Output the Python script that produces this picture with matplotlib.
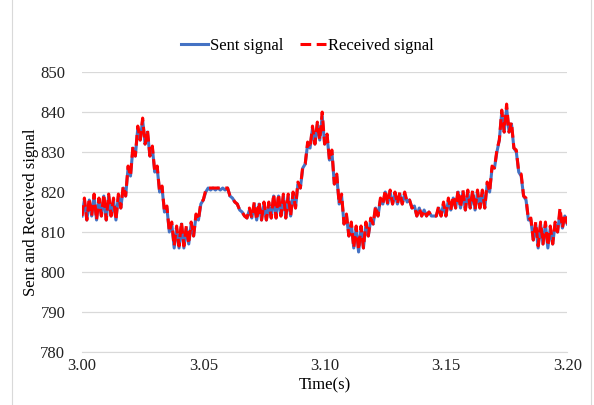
import numpy as np
import matplotlib
matplotlib.use("Agg")
import matplotlib.pyplot as plt
from matplotlib.lines import Line2D

plt.rcParams["font.family"] = ["Liberation Serif", "DejaVu Serif"]

# time axis: 1 ms samples from 3.000 s to 3.200 s
t_start, t_step, n_pts = 3.000, 0.001, 201

sent = [
    814, 818, 813, 818, 814, 819, 813, 818, 814, 819,
    813, 819, 814, 818, 813, 819, 816, 821, 819, 826,
    824, 831, 829, 836, 833, 838, 832, 835, 829, 831,
    825, 826, 820, 821, 815, 816, 810, 812, 806, 811,
    806, 812, 806, 811, 807, 812, 809, 814, 813, 817,
    818, 820, 821, 820.5, 821, 820.5, 821, 820.5, 821, 820.5,
    821, 819, 818.5, 817.5, 817, 815.5, 815, 814, 813.5, 815.5,
    813.5, 817, 813, 817, 813, 817, 813, 817, 813.5, 819,
    813.5, 819, 814, 819, 813.5, 819, 814, 819.5, 816, 822,
    821, 826, 827, 832, 831, 836, 832, 837, 833, 839,
    832, 834, 828, 830, 822, 824, 817, 819, 812, 814,
    809, 812, 806, 811, 805, 811, 806, 812, 809, 813,
    812, 816, 814, 818, 817, 820, 817, 820, 817, 819.5,
    817, 819.5, 817, 819.5, 817.5, 818, 816, 816.5, 814, 816,
    814, 815.5, 814, 815, 814, 814, 814, 816, 814, 817,
    814, 818, 815.5, 818.5, 816, 820, 816, 820, 815.5, 820,
    816, 820, 815.5, 820, 816, 820, 816, 822, 820, 826,
    826, 830, 833, 840, 835, 841, 835, 837, 831, 830,
    825, 824, 819, 818, 813, 813, 808, 812, 806, 812,
    807, 812, 806, 811, 807, 812, 810, 815, 811, 814,
    812,
]

received = [
    814, 818.5, 813, 818.5, 814, 819.5, 813, 818.5, 814, 819.5,
    813, 819.5, 814, 818.5, 813, 819.5, 816, 821.5, 819, 826.5,
    824, 831.5, 829, 836.5, 833, 838.5, 832, 835.5, 829, 831.5,
    825, 826.5, 820, 821.5, 815, 816.5, 810, 812.5, 806.5, 811.5,
    806.5, 812.5, 806.5, 811.5, 807, 812.5, 809, 814.5, 813, 817.5,
    818, 820.5, 821, 821, 821, 821, 821, 821, 821, 821,
    821, 819, 818.5, 817.5, 817, 815.5, 815, 814, 813.5, 816,
    813.5, 817.5, 813, 817.5, 813, 817.5, 813, 817.5, 813.5, 819.5,
    813.5, 819.5, 814, 819.5, 813.5, 819.5, 814, 820, 816, 822.5,
    821, 826.5, 827, 832.5, 831, 836.5, 832, 837.5, 833, 840,
    832, 834.5, 828, 830.5, 822, 824.5, 817, 819.5, 812, 814.5,
    809, 812.5, 806, 811.5, 805.5, 811.5, 806, 812.5, 809, 813.5,
    812, 816.5, 814, 818.5, 817, 820.5, 817, 820.5, 817, 820,
    817, 820, 817, 820, 817.5, 818, 816, 816.5, 814, 816,
    814, 815.5, 814, 815, 814, 814, 814, 816.5, 814, 817.5,
    814, 818.5, 815.5, 819, 816, 820.5, 816, 820.5, 815.5, 820.5,
    816, 820.5, 815.5, 820.5, 816, 820.5, 816, 822.5, 820, 826.5,
    826, 830.5, 833, 840.5, 835, 842, 835, 837.5, 831, 830.5,
    825, 824.5, 819, 818.5, 813, 813.5, 808, 812.5, 806.5, 812.5,
    807, 812.5, 806.5, 811.5, 807, 812.5, 810, 816, 811, 814.5,
    812,
]

time = t_start + t_step * np.arange(n_pts)

fig = plt.figure(figsize=(5.94, 4.05), dpi=100)
ax = fig.add_axes([0.138, 0.131, 0.817, 0.691])

ax.plot(time, sent, color="#4472C4", lw=2.2, label="Sent signal", zorder=3)
ax.plot(time, received, color="#FF0000", lw=2.2, dashes=(3.5, 1.8),
        label="Received signal", zorder=4)

ax.set_xlim(3.0, 3.2)
ax.set_ylim(780, 850)
ax.set_xticks([3.00, 3.05, 3.10, 3.15, 3.20])
ax.set_xticklabels(["3.00", "3.05", "3.10", "3.15", "3.20"])
ax.set_yticks(range(780, 851, 10))
ax.grid(axis="y", color="#D9D9D9", lw=0.9)
ax.set_axisbelow(True)
for s in ("top", "right", "left"):
    ax.spines[s].set_visible(False)
ax.spines["bottom"].set_color("#D9D9D9")
ax.tick_params(length=0, labelsize=12, colors="#222222")
ax.tick_params(axis="x", pad=4)
ax.tick_params(axis="y", pad=12)

ax.set_xlabel("Time(s)", fontsize=12, labelpad=3)
ax.set_ylabel("Sent and Received signal", fontsize=12)
ax.yaxis.set_label_coords(-0.089, 0.5)

ax.legend(loc="lower center", bbox_to_anchor=(0.465, 1.01), ncol=2, frameon=False,
          fontsize=12, handlelength=1.6, handletextpad=0.1, columnspacing=1.0)

# thin frame lines either side of the chart area
for xf in (12 / 594, 591 / 594):
    fig.add_artist(Line2D([xf, xf], [0, 1], transform=fig.transFigure,
                          color="#D9D9D9", lw=0.8))

fig.savefig("out.png", dpi=100, facecolor="white")
